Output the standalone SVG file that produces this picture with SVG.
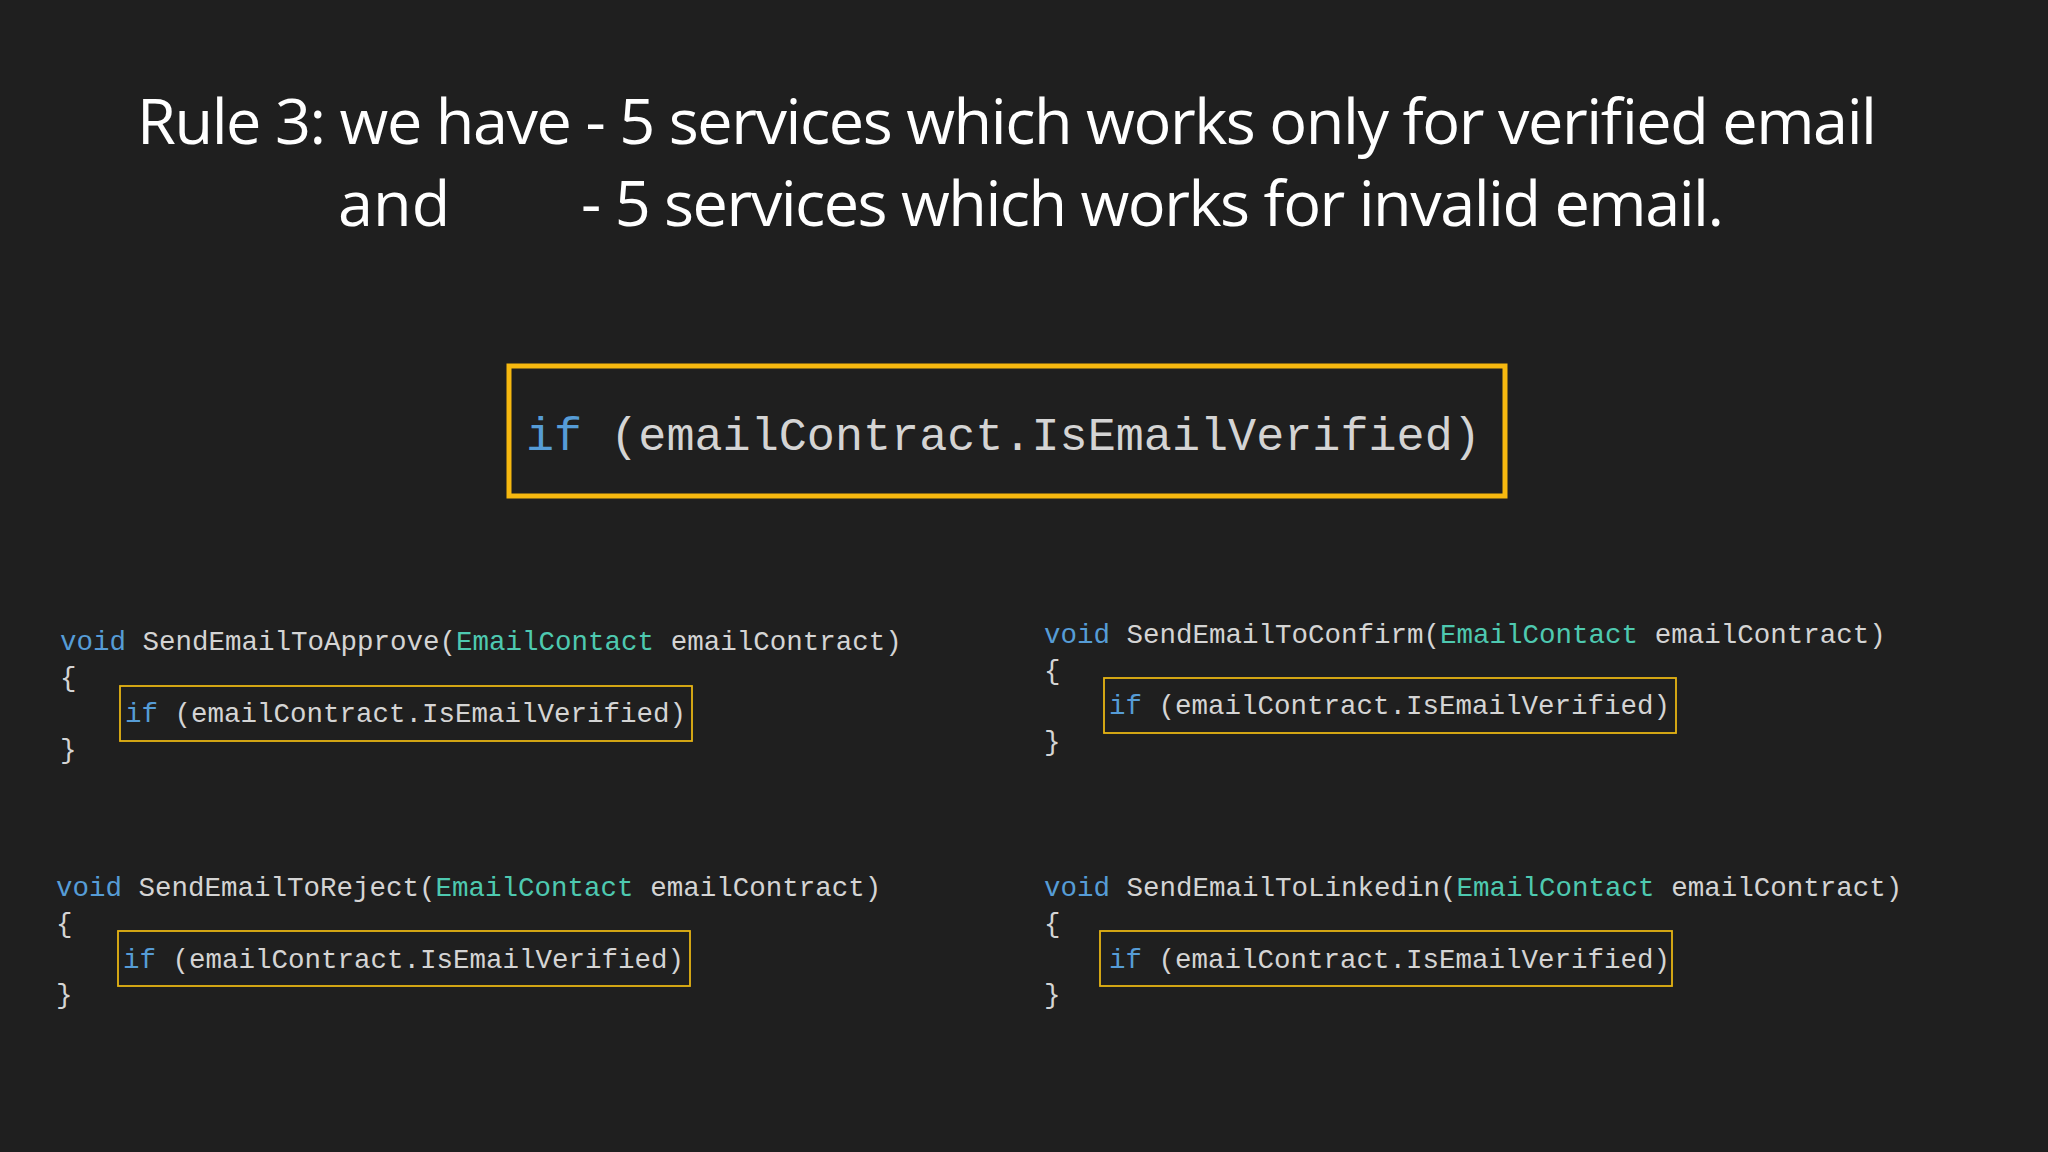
<svg xmlns="http://www.w3.org/2000/svg" width="2048" height="1152" viewBox="0 0 2048 1152">
<style>
.t{font-family:"Open Sans","Liberation Sans",sans-serif;font-size:63px;fill:#ffffff}
.c{font-family:"Liberation Mono","DejaVu Sans Mono",monospace;font-size:27.5px;fill:#d4d4d4}
.k{fill:#569cd6}.ty{fill:#4ec9b0}
.b{fill:none;stroke:#e6b413;stroke-width:1.8}
</style>
<rect width="2048" height="1152" fill="#1f1f1f"/>
<g id="title">
<text class="t" x="1007" y="144" text-anchor="middle" textLength="1740">Rule 3: we have - 5 services which works only for verified email</text>
<text class="t" x="338" y="226">and</text>
<text class="t" x="581" y="226" textLength="1143">- 5 services which works for invalid email.</text>
</g>
<g id="main">
<rect x="509" y="366" width="996" height="130" fill="none" stroke="#f6b80f" stroke-width="5"/>
<text class="c" style="font-size:46.8px" x="526" y="450"><tspan class="k">if</tspan> (emailContract.IsEmailVerified)</text>
</g>
<g id="approve">
<text class="c" x="60" y="650"><tspan class="k">void</tspan> SendEmailToApprove(<tspan class="ty">EmailContact</tspan> emailContract)</text>
<text class="c" x="60" y="686">{</text>
<rect class="b" x="120" y="686" width="572" height="55"/>
<text class="c" x="125" y="722"><tspan class="k">if</tspan> (emailContract.IsEmailVerified)</text>
<text class="c" x="60" y="758">}</text>
</g>
<g id="confirm">
<text class="c" x="1044" y="643"><tspan class="k">void</tspan> SendEmailToConfirm(<tspan class="ty">EmailContact</tspan> emailContract)</text>
<text class="c" x="1044" y="679">{</text>
<rect class="b" x="1104" y="678" width="572" height="55"/>
<text class="c" x="1109" y="714"><tspan class="k">if</tspan> (emailContract.IsEmailVerified)</text>
<text class="c" x="1044" y="750">}</text>
</g>
<g id="reject">
<text class="c" x="56" y="896"><tspan class="k">void</tspan> SendEmailToReject(<tspan class="ty">EmailContact</tspan> emailContract)</text>
<text class="c" x="56" y="932">{</text>
<rect class="b" x="118" y="931" width="572" height="55"/>
<text class="c" x="123" y="968"><tspan class="k">if</tspan> (emailContract.IsEmailVerified)</text>
<text class="c" x="56" y="1003">}</text>
</g>
<g id="linkedin">
<text class="c" x="1044" y="896"><tspan class="k">void</tspan> SendEmailToLinkedin(<tspan class="ty">EmailContact</tspan> emailContract)</text>
<text class="c" x="1044" y="932">{</text>
<rect class="b" x="1100" y="931" width="572" height="55"/>
<text class="c" x="1109" y="968"><tspan class="k">if</tspan> (emailContract.IsEmailVerified)</text>
<text class="c" x="1044" y="1003">}</text>
</g>
<g id="connectors"/>
</svg>
